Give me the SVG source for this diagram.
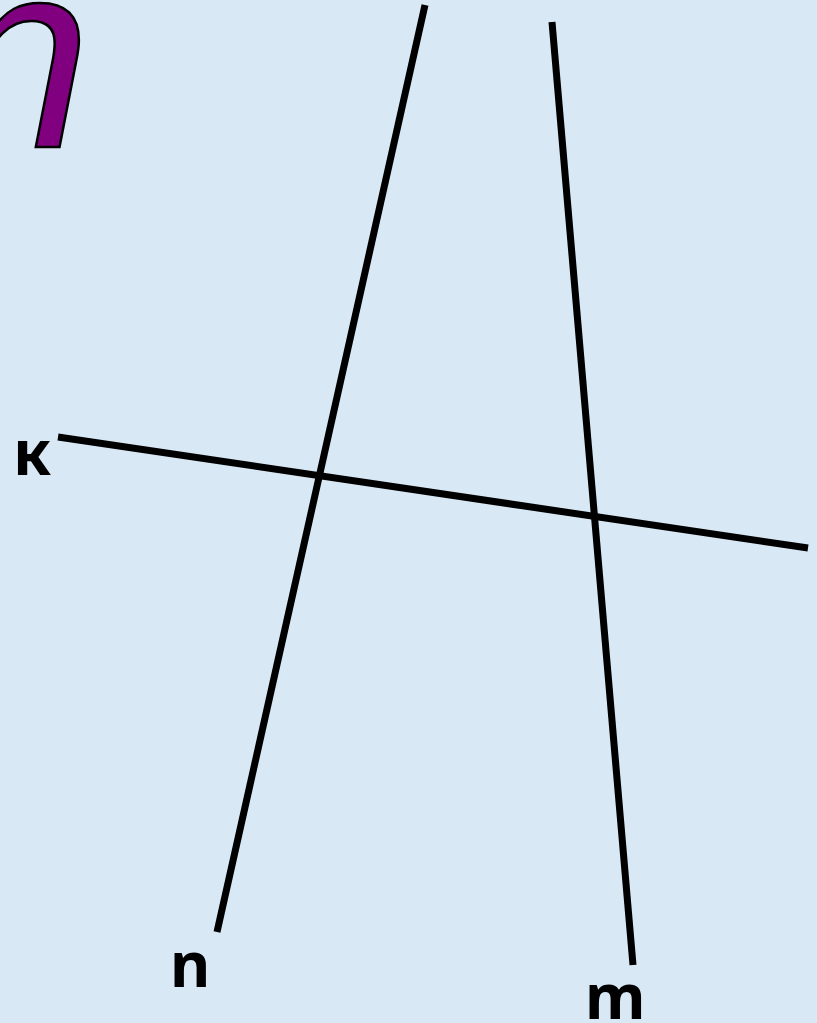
<svg xmlns="http://www.w3.org/2000/svg" width="817" height="1023" viewBox="0 0 817 1023">
<style>
.ln{stroke:#000;stroke-width:7;stroke-linecap:butt;fill:none}
.lbl{font-family:"Noto Sans","Open Sans","Liberation Sans",sans-serif;font-weight:700;font-size:62px;fill:#000}
</style>
<rect width="817" height="1023" fill="#d9e8f5"/>
<g id="deco">
<text x="-58" y="147" font-family="Liberation Sans, sans-serif" font-style="italic" font-size="268" fill="#800080" stroke="#000" stroke-width="2.5">n</text>
</g>
<g id="connectors">
<line id="line-n" class="ln" x1="425" y1="5" x2="217" y2="932"/>
<line id="line-m" class="ln" x1="552" y1="22" x2="633" y2="965"/>
<line id="line-k" class="ln" x1="58" y1="437" x2="808" y2="548"/>
</g>
<g id="label-k"><text class="lbl" x="13" y="475">к</text></g>
<g id="label-n"><text class="lbl" x="170" y="987">n</text></g>
<g id="label-m"><text class="lbl" x="585" y="1019">m</text></g>
</svg>
